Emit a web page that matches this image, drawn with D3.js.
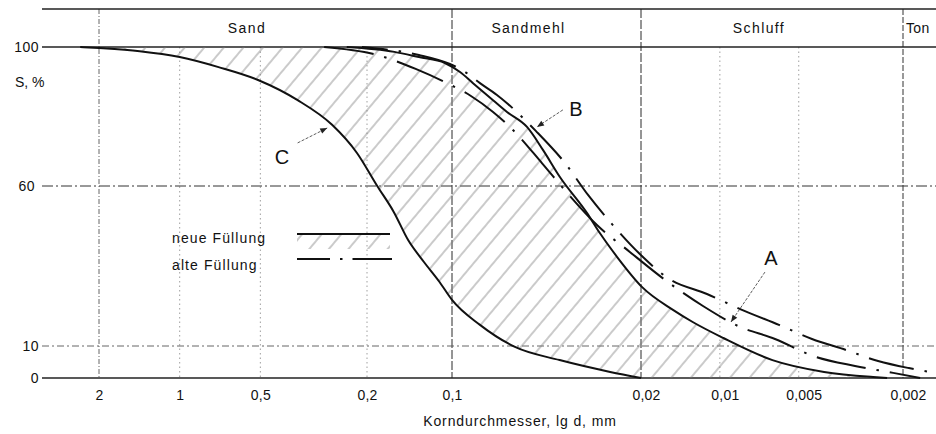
<!DOCTYPE html>
<html><head><meta charset="utf-8">
<script src="https://cdn.jsdelivr.net/npm/d3@7"></script>
<style>
body{margin:0;background:#fff}
svg{display:block;background:#fff}
text{font-family:"Liberation Sans",Arial,sans-serif;fill:#111}
</style>
</head><body>
<svg id="chart" width="936" height="434"></svg>
<script>
// ---------- data ----------
const xTicks = [2, 1, 0.5, 0.2, 0.1, 0.02, 0.01, 0.005, 0.002];
const xTickLabels = ["2", "1", "0,5", "0,2", "0,1", "0,02", "0,01", "0,005", "0,002"];
const yTicks = [0, 10, 60, 100];
const yTickLabels = ["0", "10", "60", "100"];
const bandNames = ["Sand", "Sandmehl", "Schluff", "Ton"];
const bandLimits = [0.1, 0.02, 0.002];          // Sand | Sandmehl | Schluff | Ton
const fullLines = [2, 0.1, 0.02, 0.002];         // grid lines running through the band row
// neue Füllung: left boundary (C) and right boundary  [d mm, S %]
const curveC = [[2.35,100],[2,99.7],[1.41,98.8],[1.0,97.1],[0.716,94.2],[0.51,90.5],[0.363,84.7],
  [0.27,77.6],[0.218,69.5],[0.184,60],[0.1608,51.9],[0.143,43.1],[0.1257,36.25],[0.1107,30],
  [0.1,24.4],[0.0788,16.6],[0.0585,9.7],[0.04,5.6],[0.026,1.9],[0.02,0]];
const curveNewRight = [[0.238,100],[0.16,98.6],[0.131,97.1],[0.106,95.4],[0.0934,92.8],[0.0836,89.6],
  [0.0705,84.7],[0.0626,81.3],[0.0528,77.0],[0.0461,70.4],[0.0399,62.6],[0.0317,51.6],[0.0284,45.3],
  [0.0245,37.8],[0.0198,28.4],[0.0151,21.3],[0.0127,17.5],[0.0097,12.5],[0.0063,5.6],[0.004,1.9],
  [0.0026,0.3],[0.0023,0]];
// alte Füllung: two dash-dot boundaries
const curveOldInner = [[0.289,100],[0.184,97.7],[0.1345,93.7],[0.106,89.9],[0.0851,85.9],[0.0705,81.3],
  [0.060,76.4],[0.0465,66.6],[0.0372,57.5],[0.0291,47.8],[0.022,39.4],[0.0158,30],[0.0116,22.5],
  [0.00853,16.25],[0.00616,12.2],[0.00441,6.9],[0.00305,3.75],[0.00218,1.6],[0.00172,0]];
const curveOldOuter = [[0.209,100],[0.131,97.7],[0.1017,95.1],[0.0918,93.4],[0.0788,89.6],[0.0682,86.2],
  [0.0621,83.6],[0.0489,75.8],[0.0382,66.6],[0.0314,57.2],[0.0256,48.1],[0.0202,38.75],[0.0158,31.25],
  [0.0112,26.25],[0.00802,20.9],[0.00595,16.6],[0.00445,12.2],[0.0033,8.75],[0.00249,5.3],
  [0.0019,3.1],[0.0015,1.6]];
const legendLabels = ["neue Füllung", "alte Füllung"];
// curve labels: [label, leader start d, S, arrow tip d, S]
const curveLabels = [["A", 0.00673, 33.1, 0.00907, 17.5], ["B", 0.0389, 81.9, 0.0485, 77.0], ["C", 0.363, 72.4, 0.2815, 76.7]];

// ---------- scales ----------
const left = 42, right = 936, bandTop = 9;
const x = d3.scaleLog().domain([2, 0.2, 0.1, 0.02, 0.002]).range([99, 367, 452, 641, 903]);
const y = d3.scaleLinear().domain([0, 10, 60, 100]).range([378, 346, 186, 47]);

const svg = d3.select("#chart");
const defs = svg.append("defs");
const pat = defs.append("pattern").attr("id", "hatch").attr("patternUnits", "userSpaceOnUse")
  .attr("width", 15).attr("height", 15).attr("patternTransform", "rotate(40)");
pat.append("line").attr("x1", 7).attr("y1", 0).attr("x2", 7).attr("y2", 15)
  .attr("stroke", "#7a7a7a").attr("stroke-width", 0.8);
defs.append("marker").attr("id", "arr").attr("viewBox", "0 0 10 10").attr("refX", 10).attr("refY", 5)
  .attr("markerWidth", 9).attr("markerHeight", 7).attr("orient", "auto").attr("markerUnits", "userSpaceOnUse")
  .append("path").attr("d", "M0,1 L10,5 L0,9 Z").attr("fill", "#222");

const line = d3.line().x(d => x(d[0])).y(d => y(d[1])).curve(d3.curveMonotoneX);
// hatched region: right of C and left of the right boundary
defs.append("clipPath").attr("id", "clipC").append("path")
  .attr("d", line(curveC) + `L${right},${y(0)}L${right},${y(100)}Z`);
defs.append("clipPath").attr("id", "clipR").append("path")
  .attr("d", line(curveNewRight) + `L${left},${y(0)}L${left},${y(100)}Z`);

// ---------- grid ----------
const g = svg.append("g");
const lineStyle = d => {
  if (d === 0.1 || d === 0.02) return {c: "#2a2a2a", w: 1, dash: "9,2"};
  if (d === 0.002) return {c: "#333", w: 1, dash: "6,2"};
  if (d === 2) return {c: "#555", w: 0.9, dash: "5,2,1,2"};
  return {c: "#888", w: 0.8, dash: "1.5,3"};
};
g.selectAll("line.v").data(xTicks).join("line")
  .attr("x1", d => x(d)).attr("x2", d => x(d))
  .attr("y1", d => fullLines.includes(d) ? bandTop : y(100)).attr("y2", y(0))
  .attr("stroke", d => lineStyle(d).c).attr("stroke-width", d => lineStyle(d).w)
  .attr("stroke-dasharray", d => lineStyle(d).dash);

const hStyle = {0: ["#222", 1.3, null], 10: ["#555", 0.9, "7,3,2,3"], 60: ["#333", 1, "11,3,2,3"], 100: ["#222", 1.3, null]};
g.selectAll("line.h").data(yTicks).join("line")
  .attr("x1", left).attr("x2", right).attr("y1", d => y(d)).attr("y2", d => y(d))
  .attr("stroke", d => hStyle[d][0]).attr("stroke-width", d => hStyle[d][1])
  .attr("stroke-dasharray", d => hStyle[d][2]);
g.append("line").attr("x1", left).attr("x2", right).attr("y1", bandTop).attr("y2", bandTop)
  .attr("stroke", "#222").attr("stroke-width", 1.3);

// ---------- band labels ----------
const bandEdgesPx = [left, ...bandLimits.map(d => x(d)), right];
const bandDx = [0, -18, -13, 0];
bandNames.forEach((name, i) => {
  const isLast = i === bandNames.length - 1;
  svg.append("text")
    .attr("x", isLast ? bandEdgesPx[i] + 3 : (bandEdgesPx[i] + bandEdgesPx[i + 1]) / 2 + bandDx[i])
    .attr("y", 33).attr("text-anchor", isLast ? "start" : "middle")
    .attr("font-size", 14).attr("letter-spacing", isLast ? 0.3 : 1.4).text(name);
});

// ---------- axes ----------
const xAxis = d3.axisBottom(x).tickValues(xTicks).tickFormat((d, i) => xTickLabels[i]).tickSize(0).tickPadding(12);
const gx = svg.append("g").attr("transform", `translate(0,${y(0)})`).call(xAxis);
gx.select(".domain").remove();
gx.selectAll("text").attr("font-size", 14).attr("letter-spacing", 0.2).attr("font-family", "Liberation Sans, Arial, sans-serif")
  .attr("fill", "#111").attr("dx", (d, i) => xTickLabels[i].length >= 4 ? 5 : 0);

const yAxis = d3.axisLeft(y).tickValues(yTicks).tickFormat((d, i) => yTickLabels[i]).tickSize(0).tickPadding(3);
const gy = svg.append("g").attr("transform", `translate(${left},0)`).call(yAxis);
gy.select(".domain").remove();
gy.selectAll("text").attr("font-size", 14).attr("letter-spacing", 0.5).attr("font-family", "Liberation Sans, Arial, sans-serif")
  .attr("fill", "#111").attr("dx", d => d === 60 ? -4 : 0);

svg.append("text").attr("x", 15).attr("y", 87).attr("font-size", 14).attr("letter-spacing", 0).text("S, %");
svg.append("text").attr("x", 520).attr("y", 426).attr("text-anchor", "middle").attr("font-size", 14)
  .attr("letter-spacing", 0.9).text("Korndurchmesser,  lg d,  mm");

// ---------- curves ----------
svg.append("g").attr("clip-path", "url(#clipC)")
  .append("g").attr("clip-path", "url(#clipR)")
  .append("rect").attr("x", left).attr("y", y(100)).attr("width", right - left).attr("height", y(0) - y(100))
  .attr("fill", "url(#hatch)");

svg.append("path").attr("d", line(curveOldInner)).attr("fill", "none").attr("stroke", "#111")
  .attr("stroke-width", 2).attr("stroke-dasharray", "50,11,2.5,11");
svg.append("path").attr("d", line(curveOldOuter)).attr("fill", "none").attr("stroke", "#111")
  .attr("stroke-width", 2).attr("stroke-dasharray", "46,11,2.5,11").attr("stroke-dashoffset", 20);
[curveC, curveNewRight].forEach(c => svg.append("path").attr("d", line(c)).attr("fill", "none")
  .attr("stroke", "#111").attr("stroke-width", 2));

// ---------- curve labels ----------
curveLabels.forEach(([t, ld, ls, ad, as]) => {
  svg.append("line").attr("x1", x(ld)).attr("y1", y(ls)).attr("x2", x(ad)).attr("y2", y(as))
    .attr("stroke", "#333").attr("stroke-width", 0.8).attr("stroke-dasharray", "3,1.5").attr("marker-end", "url(#arr)");
});
const labelPos = {A: [771, 265], B: [576, 116], C: [282, 164]};
curveLabels.forEach(([t]) => svg.append("text").attr("x", labelPos[t][0]).attr("y", labelPos[t][1])
  .attr("text-anchor", "middle").attr("font-size", 20).text(t));

// ---------- legend ----------
const lg = svg.append("g");
legendLabels.forEach((t, i) => lg.append("text").attr("x", 172).attr("y", 243 + i * 27)
  .attr("font-size", 14).attr("letter-spacing", 1.1).text(t));
lg.append("rect").attr("x", 297).attr("y", 235).attr("width", 93).attr("height", 14).attr("fill", "url(#hatch)");
lg.append("line").attr("x1", 297).attr("x2", 390).attr("y1", 234).attr("y2", 234).attr("stroke", "#111").attr("stroke-width", 2);
lg.append("line").attr("x1", 297).attr("x2", 392).attr("y1", 259).attr("y2", 259).attr("stroke", "#111")
  .attr("stroke-width", 2).attr("stroke-dasharray", "33,10,2.5,10,50");
</script>
</body></html>
